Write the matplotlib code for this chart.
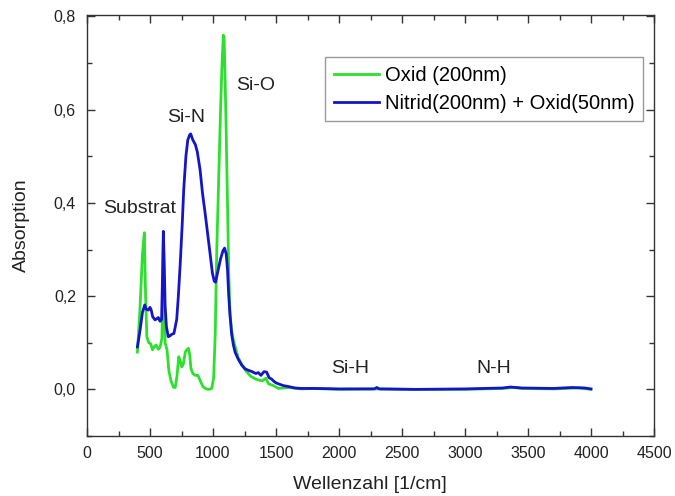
import matplotlib
matplotlib.use("Agg")
import matplotlib.pyplot as plt
from matplotlib.ticker import MultipleLocator, FuncFormatter

plt.rcParams['font.family'] = ['Liberation Sans', 'DejaVu Sans']

# Oxid (200nm) spectrum
wn_oxid = [400, 420, 440, 455, 465, 475, 490, 505, 520, 535, 550, 565, 580, 595,
           600, 606, 612, 620, 635, 650, 665, 685, 700, 715, 728, 740, 752, 765,
           780, 795, 805, 815, 825, 840, 860, 880, 900, 920, 945, 970, 990, 1005,
           1018, 1030, 1045, 1060, 1072, 1082, 1088, 1095, 1105, 1115, 1125, 1135,
           1148, 1160, 1175, 1200, 1230, 1260, 1300, 1340, 1390, 1420, 1440, 1480,
           1520, 1600, 1700, 1800, 2000, 2300, 2600, 3000, 3300, 3380, 3450, 3700,
           3900, 4000]
abs_oxid = [0.080, 0.170, 0.290, 0.336, 0.200, 0.113, 0.100, 0.098, 0.085, 0.092,
            0.095, 0.086, 0.090, 0.110, 0.200, 0.320, 0.200, 0.100, 0.085, 0.040,
            0.020, 0.005, 0.004, 0.030, 0.070, 0.062, 0.048, 0.055, 0.080, 0.086,
            0.088, 0.075, 0.045, 0.034, 0.030, 0.030, 0.018, 0.006, 0.001, 0.000,
            0.002, 0.025, 0.120, 0.300, 0.450, 0.600, 0.700, 0.760, 0.755, 0.680,
            0.550, 0.400, 0.250, 0.160, 0.127, 0.108, 0.092, 0.068, 0.053, 0.040,
            0.028, 0.022, 0.018, 0.024, 0.012, 0.008, 0.002, 0.004, 0.001, 0.002,
            0.000, 0.001, 0.000, 0.000, 0.002, 0.004, 0.002, 0.001, 0.003, 0.000]

# Nitrid(200nm) + Oxid(50nm) spectrum
wn_nitrid = [400, 420, 440, 458, 470, 487, 500, 510, 521, 540, 555, 566, 580, 592,
             600, 606, 612, 620, 630, 645, 660, 672, 690, 712, 725, 740, 755, 768,
             785, 800, 815, 823, 840, 860, 875, 897, 917, 937, 957, 976, 995, 1010,
             1020, 1040, 1060, 1080, 1092, 1105, 1115, 1125, 1135, 1148, 1162, 1175,
             1200, 1228, 1255, 1280, 1310, 1340, 1360, 1380, 1405, 1426, 1445, 1466,
             1480, 1500, 1518, 1560, 1600, 1650, 1700, 1800, 2000, 2280, 2300, 2320,
             2600, 3000, 3300, 3360, 3450, 3700, 3850, 3950, 4000]
abs_nitrid = [0.091, 0.125, 0.165, 0.181, 0.172, 0.170, 0.176, 0.170, 0.156, 0.149,
              0.152, 0.154, 0.146, 0.150, 0.250, 0.339, 0.280, 0.180, 0.135, 0.113,
              0.115, 0.118, 0.120, 0.150, 0.200, 0.270, 0.350, 0.430, 0.500, 0.535,
              0.546, 0.548, 0.535, 0.525, 0.510, 0.472, 0.420, 0.379, 0.335, 0.293,
              0.250, 0.232, 0.230, 0.255, 0.280, 0.298, 0.303, 0.290, 0.257, 0.200,
              0.160, 0.118, 0.095, 0.080, 0.065, 0.052, 0.044, 0.041, 0.038, 0.034,
              0.036, 0.030, 0.038, 0.037, 0.025, 0.022, 0.018, 0.014, 0.012, 0.008,
              0.006, 0.003, 0.002, 0.002, 0.001, 0.001, 0.004, 0.001, 0.000, 0.001,
              0.003, 0.005, 0.003, 0.002, 0.004, 0.003, 0.001]

# band labels: (text, wavenumber, absorption)
band_labels = [("Substrat", 420, 0.389), ("Si-N", 786, 0.583), ("Si-O", 1341, 0.652),
               ("Si-H", 2087, 0.045), ("N-H", 3230, 0.045)]

fig = plt.figure(figsize=(6.75, 4.96), dpi=100)
ax = fig.add_axes([87 / 675, 1 - 436 / 496, 567 / 675, 421 / 496])

ax.plot(wn_oxid, abs_oxid, color='#2ee02e', lw=2.0, label='Oxid (200nm)')
ax.plot(wn_nitrid, abs_nitrid, color='#1515c8', lw=2.0, label='Nitrid(200nm) + Oxid(50nm)')

for txt, xv, yv in band_labels:
    ax.text(xv, yv, txt, fontsize=14, ha='center', va='center', color='#222222')

ax.set_xlim(0, 4500)
ax.set_ylim(-0.1, 0.803)
ax.xaxis.set_major_locator(MultipleLocator(500))
ax.xaxis.set_minor_locator(MultipleLocator(250))
ax.yaxis.set_major_locator(MultipleLocator(0.2))
ax.yaxis.set_minor_locator(MultipleLocator(0.1))
ax.yaxis.set_major_formatter(FuncFormatter(lambda v, p: f"{v:.1f}".replace('.', ',')))

ax.tick_params(which='both', direction='in', top=True, right=True,
               color='#333333', labelcolor='#222222', labelsize=11.5)
ax.tick_params(which='major', length=6, width=1)
ax.tick_params(which='minor', length=3.5, width=1)
ax.tick_params(axis='x', pad=7)
ax.tick_params(axis='y', pad=8)
for s in ax.spines.values():
    s.set_color('#333333')
    s.set_linewidth(1.0)

ax.set_xlabel('Wellenzahl [1/cm]', fontsize=14, color='#222222')
ax.set_ylabel('Absorption', fontsize=14, color='#222222')
ax.xaxis.set_label_coords(0.499, -0.095)
ax.yaxis.set_label_coords(-0.10, 0.5)

leg = ax.legend(loc='upper right', bbox_to_anchor=(0.981, 0.900), fontsize=14.5,
                fancybox=False, edgecolor='#999999', framealpha=1,
                handlelength=2.25, handletextpad=0.3, labelspacing=0.45,
                borderpad=0.42, borderaxespad=0)
leg.get_frame().set_linewidth(1.0)

plt.savefig("out.png", dpi=100)
